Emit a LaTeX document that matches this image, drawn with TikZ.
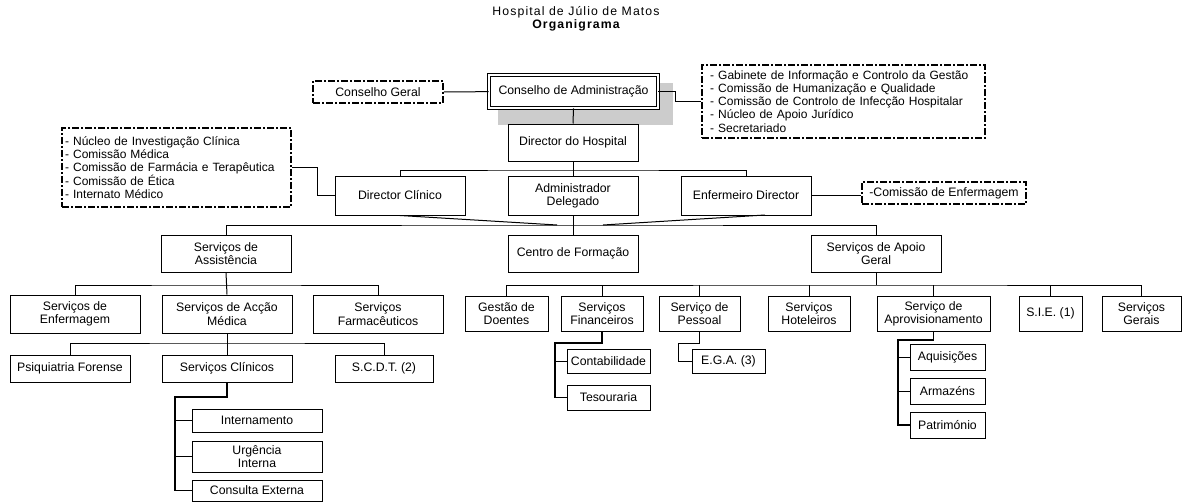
\documentclass[tikz,border=0pt]{standalone}
\usepackage{fontspec}
\setmainfont{Liberation Sans}
\newfontfamily\titlefont[LetterSpace=9]{Liberation Sans}
\usetikzlibrary{positioning}

\definecolor{shadowgray}{rgb}{0.80,0.80,0.80}
\tikzset{
  corners/.style n args={4}{at={({(#1+#3)/2},{(#2+#4)/2})},
    minimum width={(#3-#1)*0.75pt}, minimum height={(#4-#2)*0.75pt}},
  box/.style={draw, line width=0.75pt, fill=white, inner sep=0pt, align=center,
    font=\fontsize{9.2}{10}\selectfont},
  dbox/.style={box, double, double distance=1.5pt, line width=0.6pt},
  notebox/.style={box, line width=1.4pt, dash pattern=on 5.25pt off 1.5pt on 1.5pt off 1.5pt},
  listbox/.style={notebox, align=left, font=\fontsize{9}{9.9}\selectfont},
  link/.style={line width=0.75pt},
  thicklink/.style={line width=1.4pt},
}

\begin{document}
\begin{tikzpicture}[x=0.75pt,y=-0.75pt]
\useasboundingbox (0,0) rectangle (1196,503);

% Title
\node[font=\titlefont\fontsize{9.2}{10}\selectfont] (title) at (576,12) {Hospital de Júlio de Matos};
\node[font=\titlefont\fontsize{9.2}{10}\selectfont\bfseries] (subtitle) at (576,25) {Organigrama};

% Top of the chart
\fill[shadowgray] (498,83) rectangle (673,125);
\node[dbox, corners={489}{75}{658}{108}] (cadm) {Conselho de Administração};
\node[notebox, corners={313}{81}{443}{103}] (cgeral) {Conselho Geral};
\node[listbox, corners={702}{65}{985}{138}, text width=200pt] (rlist)
  {- Gabinete de Informação e Controlo da Gestão\\
   - Comissão de Humanização e Qualidade\\
   - Comissão de Controlo de Infecção Hospitalar\\
   - Núcleo de Apoio Jurídico\\
   - Secretariado};
\node[box, corners={508}{124}{638}{161}] (dhosp) {Director do Hospital};

% Directors
\node[box, corners={335}{176}{465}{215}] (dclin) {Director Clínico};
\node[box, corners={508}{176}{638}{215}] (adel) {Administrador\\Delegado};
\node[box, corners={681}{176}{811}{215}] (denf) {Enfermeiro Director};
\node[notebox, corners={862}{182}{1026}{204}] (cenf) {-Comissão de Enfermagem};
\node[listbox, corners={62}{128}{291}{207}, text width=167pt] (llist)
  {- Núcleo de Investigação Clínica\\
   - Comissão Médica\\
   - Comissão de Farmácia e Terapêutica\\
   - Comissão de Ética\\
   - Internato Médico};

% Services
\node[box, corners={161}{235}{291}{272}] (sassist) {Serviços de\\Assistência};
\node[box, corners={508}{235}{638}{272}] (cform) {Centro de Formação};
\node[box, corners={811}{235}{941}{272}] (sapoio) {Serviços de Apoio\\Geral};

\node[box, corners={10}{295}{140}{333}] (senferm) {Serviços de\\Enfermagem};
\node[box, corners={162}{295}{292}{333}] (sacm) {Serviços de Acção\\Médica};
\node[box, corners={313}{295}{443}{333}] (sfarm) {Serviços\\Farmacêuticos};

\node[box, corners={10}{355}{130}{382}] (psiq) {Psiquiatria Forense};
\node[box, corners={162}{355}{292}{382}] (sclin) {Serviços Clínicos};
\node[box, corners={335}{355}{433}{382}] (scdt) {S.C.D.T. (2)};

\node[box, corners={192}{409}{322}{432}] (intern) {Internamento};
\node[box, corners={192}{441}{322}{472}] (urg) {Urgência\\Interna};
\node[box, corners={192}{480}{322}{501}] (cext) {Consulta Externa};

\node[box, corners={465}{296}{548}{331}] (gdoent) {Gestão de\\Doentes};
\node[box, corners={561}{296}{643}{331}] (sfin) {Serviços\\Financeiros};
\node[box, corners={659}{296}{740}{331}] (spess) {Serviço de\\Pessoal};
\node[box, corners={768}{296}{850}{331}] (shot) {Serviços\\Hoteleiros};
\node[box, corners={877}{296}{990}{331}] (saprov) {Serviço de\\Aprovisionamento};
\node[box, corners={1019}{296}{1082}{331}] (sie) {S.I.E. (1)};
\node[box, corners={1102}{296}{1181}{331}] (sgerais) {Serviços\\Gerais};

\node[box, corners={567}{349}{650}{373}] (contab) {Contabilidade};
\node[box, corners={567}{385}{650}{410}] (tesour) {Tesouraria};
\node[box, corners={692}{349}{765}{373}] (ega) {E.G.A. (3)};
\node[box, corners={910}{344}{985}{370}] (aquis) {Aquisições};
\node[box, corners={910}{378}{985}{404}] (armaz) {Armazéns};
\node[box, corners={910}{412}{985}{438}] (patrim) {Património};

% Bus points
\coordinate (bus1) at (573,170);
\coordinate (bus2) at (573,225);
\coordinate (bus3) at (226,285);
\coordinate (bus4) at (227,343);
\coordinate (bus5) at (876,285);
\coordinate (slantL) at (557,225);
\coordinate (slantR) at (603,225);
\coordinate (kinkR) at (765,215);
\coordinate (trunkC) at (175,397);
\coordinate (trunkF) at (555,343);
\coordinate (trunkP) at (678,343);
\coordinate (trunkV) at (898,340);

% Connectors
\begin{scope}[link]
\draw (cgeral) -- (cadm);
\draw (cadm.east) -- ++(17,0) |- (rlist.west);
\draw (cadm.south) -- (dhosp.north);
\draw (dhosp.south) -- (adel.north);
\draw (dclin.north) |- (bus1) -| (denf.north);
\draw (dclin.west) -- ++(-17,0) |- (llist.east);
\draw (denf.east) -- (cenf.west |- denf.east);
\draw (dclin.south) -- (slantL);
\draw (kinkR) -- (slantR);
\draw (adel.south) -- (cform.north);
\draw (sassist.north) |- (bus2) -| (sapoio.north);
\draw (sassist.south) -- (sacm.north);
\draw (senferm.north) |- (bus3) -| (sfarm.north);
\draw (sacm.south) -- (sclin.north);
\draw (psiq.north) |- (bus4) -| (scdt.north);
\draw (sapoio.south) -- (bus5);
\draw (gdoent.north) |- (bus5) -| (sgerais.north);
\foreach \n in {sfin,spess,shot,saprov,sie}
  \draw (\n.north) -- (\n.north |- bus5);
\draw (spess.south) |- (trunkP) |- (ega.west);
\draw (trunkC |- intern.west) -- (intern.west);
\draw (trunkC |- urg.west) -- (urg.west);
\draw (trunkF |- contab.west) -- (contab.west);
\draw (trunkV |- aquis.west) -- (aquis.west);
\draw (trunkV |- armaz.west) -- (armaz.west);
\end{scope}
\draw[thicklink] (sclin.south) |- (trunkC) |- (cext.west);
\draw[thicklink] (sfin.south) |- (trunkF) |- (tesour.west);
\draw[thicklink] (saprov.south) |- (trunkV) |- (patrim.west);
\end{tikzpicture}
\end{document}
